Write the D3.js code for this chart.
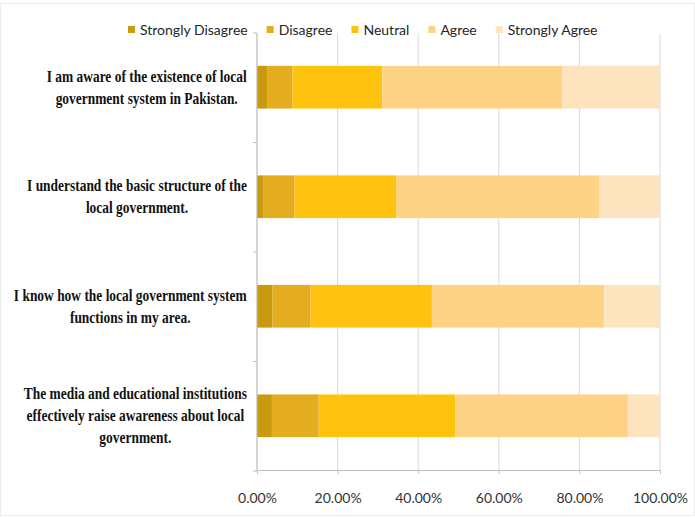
<!DOCTYPE html>
<html>
<head>
<meta charset="utf-8">
<script src="https://cdn.jsdelivr.net/npm/d3@7"></script>
<style>
  body { margin: 0; background: #fff; }
</style>
</head>
<body>
<div id="chart"></div>
<script>
// Survey statements (top to bottom)
const statements = [
    ["I am aware of the existence of local", "government system in Pakistan."],
    ["I understand the basic structure of the", "local government."],
    ["I know how the local government system", "functions in my area."],
    ["The media and educational institutions", "effectively raise awareness about local", "government."]
];
const responses = ["Strongly Disagree", "Disagree", "Neutral", "Agree", "Strongly Agree"];

// Percentages per response, one value per statement
const stronglyDisagree = [2.5, 1.5, 3.8, 3.7];
const disagree = [6.3, 7.8, 9.5, 11.6];
const neutral = [22.3, 25.2, 30.1, 33.9];
const agree = [44.6, 50.5, 42.8, 42.8];
const stronglyAgree = [24.3, 15.0, 13.8, 8.0];

const xTicks = [0, 20, 40, 60, 80, 100];

const width = 695;
const height = 517;
const margin = {top: 33, right: 35, bottom: 47, left: 257};

const svg = d3.select("#chart")
    .append("svg")
    .attr("width", width)
    .attr("height", height);

// Faint chart border
svg.append("rect")
    .attr("x", 0.5).attr("y", 3.5)
    .attr("width", width - 1).attr("height", height - 5)
    .attr("fill", "none")
    .attr("stroke", "#ececec");

const rows = statements.map((s, i) => ({
    key: i,
    "Strongly Disagree": stronglyDisagree[i],
    "Disagree": disagree[i],
    "Neutral": neutral[i],
    "Agree": agree[i],
    "Strongly Agree": stronglyAgree[i]
}));

const x = d3.scaleLinear()
    .domain([0, 100])
    .range([margin.left, width - margin.right]);

const y = d3.scaleBand()
    .domain(rows.map(d => d.key))
    .range([margin.top, height - margin.bottom])
    .paddingInner(0.61)
    .paddingOuter(0.3);

const color = d3.scaleOrdinal()
    .domain(responses)
    .range(["#c99a10", "#e4ad20", "#ffc20e", "#fed386", "#fee3bf"]);

// Vertical gridlines
svg.append("g")
    .selectAll("line")
    .data(xTicks)
    .enter().append("line")
    .attr("x1", d => x(d)).attr("x2", d => x(d))
    .attr("y1", margin.top).attr("y2", height - margin.bottom)
    .attr("stroke", "#d9d9d9")
    .attr("stroke-width", 1);

// Stacked bars
const stacked = d3.stack().keys(responses)(rows);

svg.append("g")
    .selectAll("g")
    .data(stacked)
    .enter().append("g")
    .attr("fill", d => color(d.key))
    .selectAll("rect")
    .data(d => d)
    .enter().append("rect")
    .attr("x", d => x(d[0]))
    .attr("y", d => y(d.data.key))
    .attr("width", d => x(d[1]) - x(d[0]))
    .attr("height", y.bandwidth());

// Bottom axis
const xAxis = svg.append("g")
    .attr("transform", `translate(0,${height - margin.bottom})`)
    .call(d3.axisBottom(x).tickValues(xTicks).tickSize(4).tickFormat(d => d.toFixed(2) + "%"));
xAxis.select(".domain").attr("stroke", "#bfbfbf");
xAxis.selectAll(".tick line").attr("stroke", "#bfbfbf");
xAxis.selectAll("text")
    .attr("y", 23)
    .style("font-family", "Lato, 'Open Sans', sans-serif")
    .style("font-size", "14px")
    .attr("fill", "#333");

// Left axis line with ticks between categories
svg.append("line")
    .attr("x1", x(0)).attr("x2", x(0))
    .attr("y1", margin.top).attr("y2", height - margin.bottom)
    .attr("stroke", "#bfbfbf");
svg.append("g")
    .selectAll("line")
    .data(d3.range(rows.length + 1))
    .enter().append("line")
    .attr("x1", x(0) - 4).attr("x2", x(0))
    .attr("y1", i => margin.top + i * y.step())
    .attr("y2", i => margin.top + i * y.step())
    .attr("stroke", "#bfbfbf");

// Category labels: wrapped lines, centred block, right edge near the axis
const lineHeight = 22;
statements.forEach((lines, i) => {
    const g = svg.append("g");
    const t = g.append("text")
        .attr("text-anchor", "middle")
        .style("font-family", "'Liberation Serif', 'Times New Roman', serif")
        .style("font-weight", "bold")
        .style("font-size", "16px")
        .attr("fill", "#111");
    lines.forEach((line, j) => {
        t.append("tspan")
            .attr("x", 0)
            .attr("y", (j - (lines.length - 1) / 2) * lineHeight)
            .attr("dy", "0.35em")
            .text(line);
    });
    const bb = t.node().getBBox();
    const sx = 0.84;
    const cy = y(i) + y.bandwidth() / 2;
    g.attr("transform", `translate(${x(0) - 10 - bb.width * sx / 2},${cy}) scale(${sx},1)`);
});

// Legend
const legend = svg.append("g").attr("transform", "translate(128,30)");
let lx = 0;
responses.forEach(r => {
    const item = legend.append("g").attr("transform", `translate(${lx},0)`);
    item.append("rect")
        .attr("x", 0).attr("y", -4)
        .attr("width", 7).attr("height", 7)
        .attr("fill", color(r));
    const txt = item.append("text")
        .attr("x", 12).attr("y", 0)
        .attr("dy", "0.35em")
        .style("font-family", "Lato, 'Open Sans', sans-serif")
        .style("font-size", "14px")
        .attr("fill", "#262626")
        .text(r);
    lx += 12 + txt.node().getComputedTextLength() + 19;
});
</script>
</body>
</html>
